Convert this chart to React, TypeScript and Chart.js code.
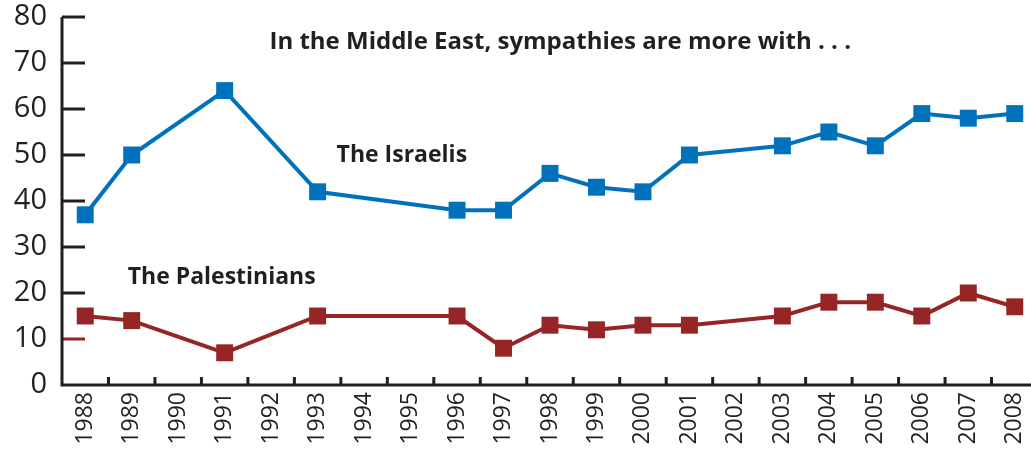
import React, { useEffect, useRef } from "react";
import { Chart, registerables } from "chart.js";

Chart.register(...registerables);

const years = ["1988","1989","1990","1991","1992","1993","1994","1995","1996","1997","1998","1999","2000","2001","2002","2003","2004","2005","2006","2007","2008"];
const israelis = [37, 50, null, 64, null, 42, null, null, 38, 38, 46, 43, 42, 50, null, 52, 55, 52, 59, 58, 59];
const palestinians = [15, 14, null, 7, null, 15, null, null, 15, 8, 13, 12, 13, 13, null, 15, 18, 18, 15, 20, 17];
const yTicks = [0, 10, 20, 30, 40, 50, 60, 70, 80];
const titleText = "In the Middle East, sympathies are more with . . .";
const israeliLabel = "The Israelis";
const palestinianLabel = "The Palestinians";

const BLUE = "#0072bc";
const RED = "#962526";
const INK = "#231f20";
const FONT = "'Open Sans', 'DejaVu Sans', sans-serif";

const decorPlugin = {
  id: "decor",
  afterDatasetsDraw(chart: any) {
    const { ctx, chartArea, scales } = chart;
    const x = scales.x;
    const y = scales.y;
    ctx.save();
    ctx.lineWidth = 3;
    for (const v of yTicks) {
      const py = y.getPixelForValue(v);
      if (v === 0) continue;
      ctx.strokeStyle = v === 10 ? RED : INK;
      ctx.beginPath();
      ctx.moveTo(chartArea.left, py);
      ctx.lineTo(chartArea.left + 23, py);
      ctx.stroke();
    }
    ctx.strokeStyle = INK;
    for (let i = 0; i < years.length - 1; i++) {
      const px = (x.getPixelForValue(i) + x.getPixelForValue(i + 1)) / 2;
      ctx.beginPath();
      ctx.moveTo(px, chartArea.bottom);
      ctx.lineTo(px, chartArea.bottom - 8);
      ctx.stroke();
    }
    ctx.lineWidth = 3;
    ctx.beginPath();
    ctx.moveTo(chartArea.left, chartArea.top);
    ctx.lineTo(chartArea.left, chartArea.bottom);
    ctx.lineTo(chartArea.right, chartArea.bottom);
    ctx.stroke();
    ctx.fillStyle = INK;
    ctx.textBaseline = "middle";
    ctx.textAlign = "center";
    ctx.font = `bold 24px ${FONT}`;
    ctx.fillText(titleText, (x.getPixelForValue(10) + x.getPixelForValue(11)) / 2 - 13, y.getPixelForValue(74.6));
    ctx.textAlign = "left";
    ctx.font = `bold 23px ${FONT}`;
    ctx.fillText(israeliLabel, x.getPixelForValue(5) + 19, y.getPixelForValue(50));
    ctx.fillText(palestinianLabel, x.getPixelForValue(1) - 4, y.getPixelForValue(23.3));
    ctx.restore();
  },
};

export default function App() {
  const ref = useRef<HTMLCanvasElement>(null);
  useEffect(() => {
    if (!ref.current) return;
    const chart = new Chart(ref.current, {
      type: "line",
      data: {
        labels: years,
        datasets: [
          {
            data: israelis,
            borderColor: BLUE,
            backgroundColor: BLUE,
            borderWidth: 4,
            pointStyle: "rect",
            pointRadius: 12,
            pointBorderWidth: 0,
            spanGaps: true,
            tension: 0,
          },
          {
            data: palestinians,
            borderColor: RED,
            backgroundColor: RED,
            borderWidth: 4,
            pointStyle: "rect",
            pointRadius: 12,
            pointBorderWidth: 0,
            spanGaps: true,
            tension: 0,
          },
        ],
      },
      options: {
        animation: false,
        responsive: false,
        maintainAspectRatio: false,
        layout: { padding: { top: 17, right: 0, left: 0, bottom: 0 } },
        plugins: { legend: { display: false }, tooltip: { enabled: false } },
        scales: {
          x: {
            type: "category",
            offset: true,
            grid: { display: false, drawTicks: false },
            border: { display: false },
            ticks: {
              autoSkip: false,
              maxRotation: 90,
              minRotation: 90,
              padding: 7,
              color: INK,
              font: { family: FONT, size: 23 },
            },
            afterFit(scale: any) {
              scale.height = 71;
              scale.paddingLeft = 0;
              scale.paddingRight = 0;
            },
          },
          y: {
            min: 0,
            max: 80,
            afterBuildTicks(scale: any) {
              scale.ticks = yTicks.map((v) => ({ value: v }));
            },
            grid: { display: false, drawTicks: false },
            border: { display: false },
            ticks: {
              padding: 15,
              color: INK,
              font: { family: FONT, size: 29 },
            },
            afterFit(scale: any) {
              scale.width = 62;
              scale.paddingTop = 0;
              scale.paddingBottom = 0;
            },
          },
        },
      },
      plugins: [decorPlugin],
    });
    return () => chart.destroy();
  }, []);
  return (
    <div style={{ position: "absolute", left: 0, top: 0, width: 1031, height: 456, overflow: "hidden", background: "#fff" }}>
      <canvas ref={ref} width={1050} height={456} style={{ width: 1050, height: 456, display: "block" }} />
    </div>
  );
}
